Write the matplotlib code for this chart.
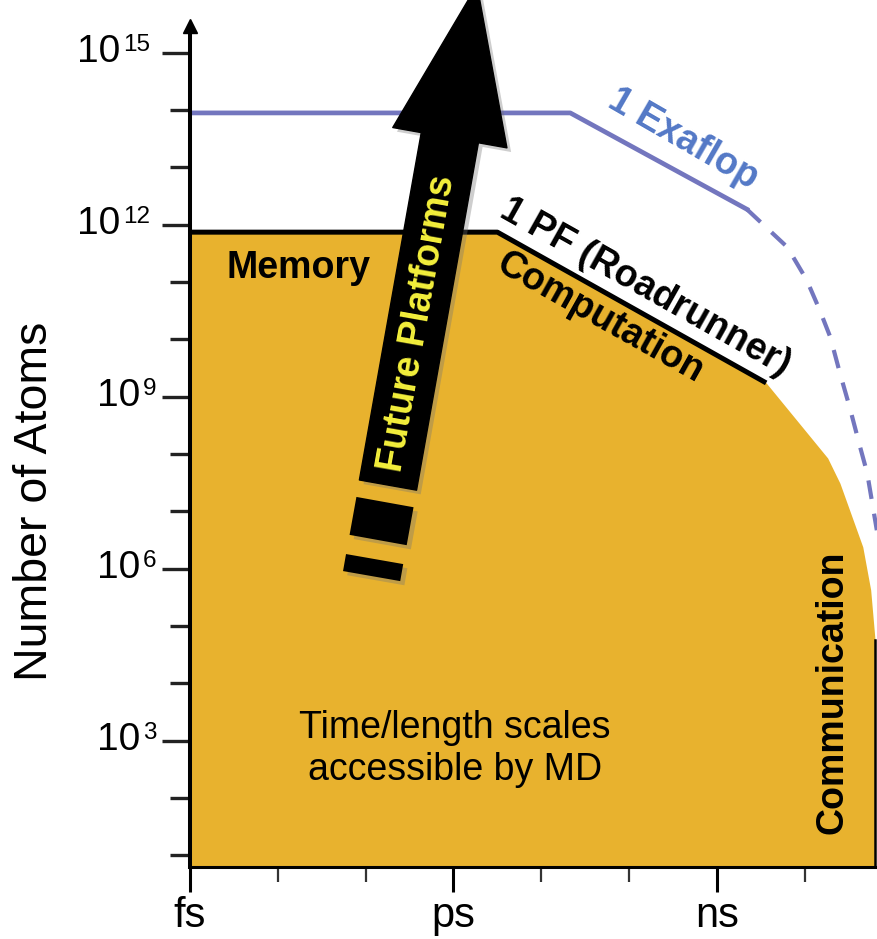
import numpy as np
import matplotlib
matplotlib.use("Agg")
import matplotlib.pyplot as plt
import matplotlib.patheffects as pe
from matplotlib.ticker import NullFormatter

plt.rcParams.update({"font.family": "Liberation Sans", "figure.dpi": 100, "savefig.dpi": 100})
GOLD, BLUE, BLUE_TXT, YEL = "#E8B22E", "#7376BE", "#5378C6", "#F4F03C"

# values, as log10(seconds) / log10(atoms)
fill_t = [-15, -11.50, -8.44, -7.74, -7.60, -7.34, -7.25, -7.20]
fill_n = [11.87, 11.87, 9.24, 7.93, 7.49, 6.38, 5.63, 4.75]
pf_t = [-15, -11.50, -8.44]
pf_n = [11.87, 11.87, 9.24]
exa_t = [-15, -10.67, -8.66]
exa_n = [13.95, 13.95, 12.27]
exa_proj_t = [-8.66, -8.20, -7.98, -7.83, -7.71, -7.60, -7.49, -7.37, -7.29, -7.18]
exa_proj_n = [12.27, 11.61, 11.04, 10.51, 10.04, 9.41, 8.82, 8.12, 7.67, 6.67]
arrow_t = [-12.746, -11.732]          # tail, tip
arrow_n = [7.458, 16.18]
dash_t = [[-12.780, -12.858], [-12.898, -12.932]]
dash_n = [[7.161, 6.499], [6.167, 5.870]]

t_major = [-15, -12, -9]
t_labels = ["fs", "ps", "ns"]
t_minor = [-14, -13, -11, -10, -8]
n_major = [3, 6, 9, 12, 15]
n_minor = [1, 2, 4, 5, 7, 8, 10, 11, 13, 14]
t_lim = (-15, -7.178)
n_lim = (0.795, 15.92)

P = lambda v: np.power(10.0, np.asarray(v, dtype=float))

fig = plt.figure(figsize=(8.77, 9.39))
ax = fig.add_axes([190 / 877, 72 / 939, 687 / 877, 867 / 939])
ax.set_xscale("log"); ax.set_yscale("log")
ax.set_xlim(P(t_lim)); ax.set_ylim(P(n_lim))

# accessible region
ax.fill_between(P(fill_t), P(fill_n), P(n_lim[0]), color=GOLD, lw=0, zorder=1)
ax.plot(P(pf_t), P(pf_n), color="black", lw=3.6, solid_capstyle="butt", zorder=3)
ax.plot(P([fill_t[-1], fill_t[-1]]), P([fill_n[-1], n_lim[0]]), color="black", lw=1.8, zorder=3)

# exaflop envelope
ax.plot(P(exa_t), P(exa_n), color=BLUE, lw=3.4, zorder=2)
ax.plot(P(exa_proj_t), P(exa_proj_n), color=BLUE, lw=3.0, ls=(0, (4.5, 3.6)), zorder=2)

# future platforms arrow
shadow = dict(offset=(3, -3), alpha=0.35)
ann = ax.annotate("", xy=(P(arrow_t[1]), P(arrow_n[1])), xytext=(P(arrow_t[0]), P(arrow_n[0])),
                  arrowprops=dict(arrowstyle="simple,head_length=1.116,head_width=0.835,tail_width=0.418",
                                  mutation_scale=100, color="black", shrinkA=0, shrinkB=0),
                  annotation_clip=False, zorder=4)
ann.arrow_patch.set_path_effects([pe.withSimplePatchShadow(shadow_rgbFace="0.45", **shadow)])
for dt, dn in zip(dash_t, dash_n):
    ax.plot(P(dt), P(dn), color="black", lw=41.8, solid_capstyle="butt", zorder=4,
            path_effects=[pe.SimpleLineShadow(shadow_color="0.45", **shadow), pe.Normal()])

# axes styling
for s in ("top", "right"):
    ax.spines[s].set_visible(False)
ax.spines["left"].set_linewidth(2.9)
ax.spines["bottom"].set_linewidth(2.2)
ax.spines["left"].set_bounds(P(n_lim[0]), P(15.46))
ax.spines["bottom"].set_bounds(P(-15), P(fill_t[-1]))
ax.plot([P(-15)], [P(15.46)], marker="^", ms=9.5, color="black", clip_on=False, zorder=5)

ax.set_xticks(P(t_major)); ax.set_xticklabels(t_labels, fontsize=30)
ax.set_xticks(P(t_minor), minor=True)
ax.set_yticks(P(n_major)); ax.set_yticklabels([""] * len(n_major))
ax.set_yticks(P(n_minor), minor=True)
ax.xaxis.set_minor_formatter(NullFormatter()); ax.yaxis.set_minor_formatter(NullFormatter())
ax.tick_params(axis="x", which="major", length=18, width=2.2, pad=3, color="black")
ax.tick_params(axis="x", which="minor", length=11, width=1.6, color="#333333")
ax.tick_params(axis="y", which="major", length=20, width=2.4, color="#222222")
ax.tick_params(axis="y", which="minor", length=14.4, width=2.4, color="#222222")

for e in n_major:
    two = len(str(e)) == 2
    ax.annotate("10", xy=(0, P(e)), xycoords=("axes fraction", "data"),
                xytext=(-50.4 if two else -36, -6.5), textcoords="offset points",
                ha="right", va="baseline", fontsize=28, annotation_clip=False)
    ax.annotate(str(e), xy=(0, P(e)), xycoords=("axes fraction", "data"),
                xytext=(-48.2 if two else -33.8, 13.7), textcoords="offset points",
                ha="left", va="top", fontsize=17.5, annotation_clip=False)

fig.text(35 / 877, 1 - 501 / 939, "Number of Atoms", rotation=90, ha="center", va="center", fontsize=33.5)

# labels
ax.text(P(-13.77), P(11.24), "Memory", fontsize=27, fontweight="bold", ha="center", va="center", zorder=5)
ax.text(P(-12.415), P(10.27), "Future Platforms", fontsize=27, fontweight="bold", color=YEL,
        rotation=79.9, rotation_mode="anchor", ha="center", va="center", zorder=5)
ax.text(P(-9.81), P(10.91), "1 PF (Roadrunner)", fontsize=27, fontweight="bold",
        rotation=-29.3, rotation_mode="anchor", ha="center", va="center", zorder=5)
ax.text(P(-10.33), P(10.37), "Computation", fontsize=27, fontweight="bold",
        rotation=-29.3, rotation_mode="anchor", ha="center", va="center", zorder=5)
ax.text(P(-9.38), P(13.49), "1 Exaflop", fontsize=27, fontweight="bold", color=BLUE_TXT,
        rotation=-30, rotation_mode="anchor", ha="center", va="center", zorder=5)
ax.text(P(-7.679), P(3.85), "Communication", fontsize=27, fontweight="bold",
        rotation=90, ha="center", va="center", zorder=5)
ax.text(P(-11.98), P(2.853), "Time/length scales\naccessible by MD", fontsize=27,
        ha="center", va="center", multialignment="center", linespacing=1.2, zorder=5)

fig.savefig("out.png")
